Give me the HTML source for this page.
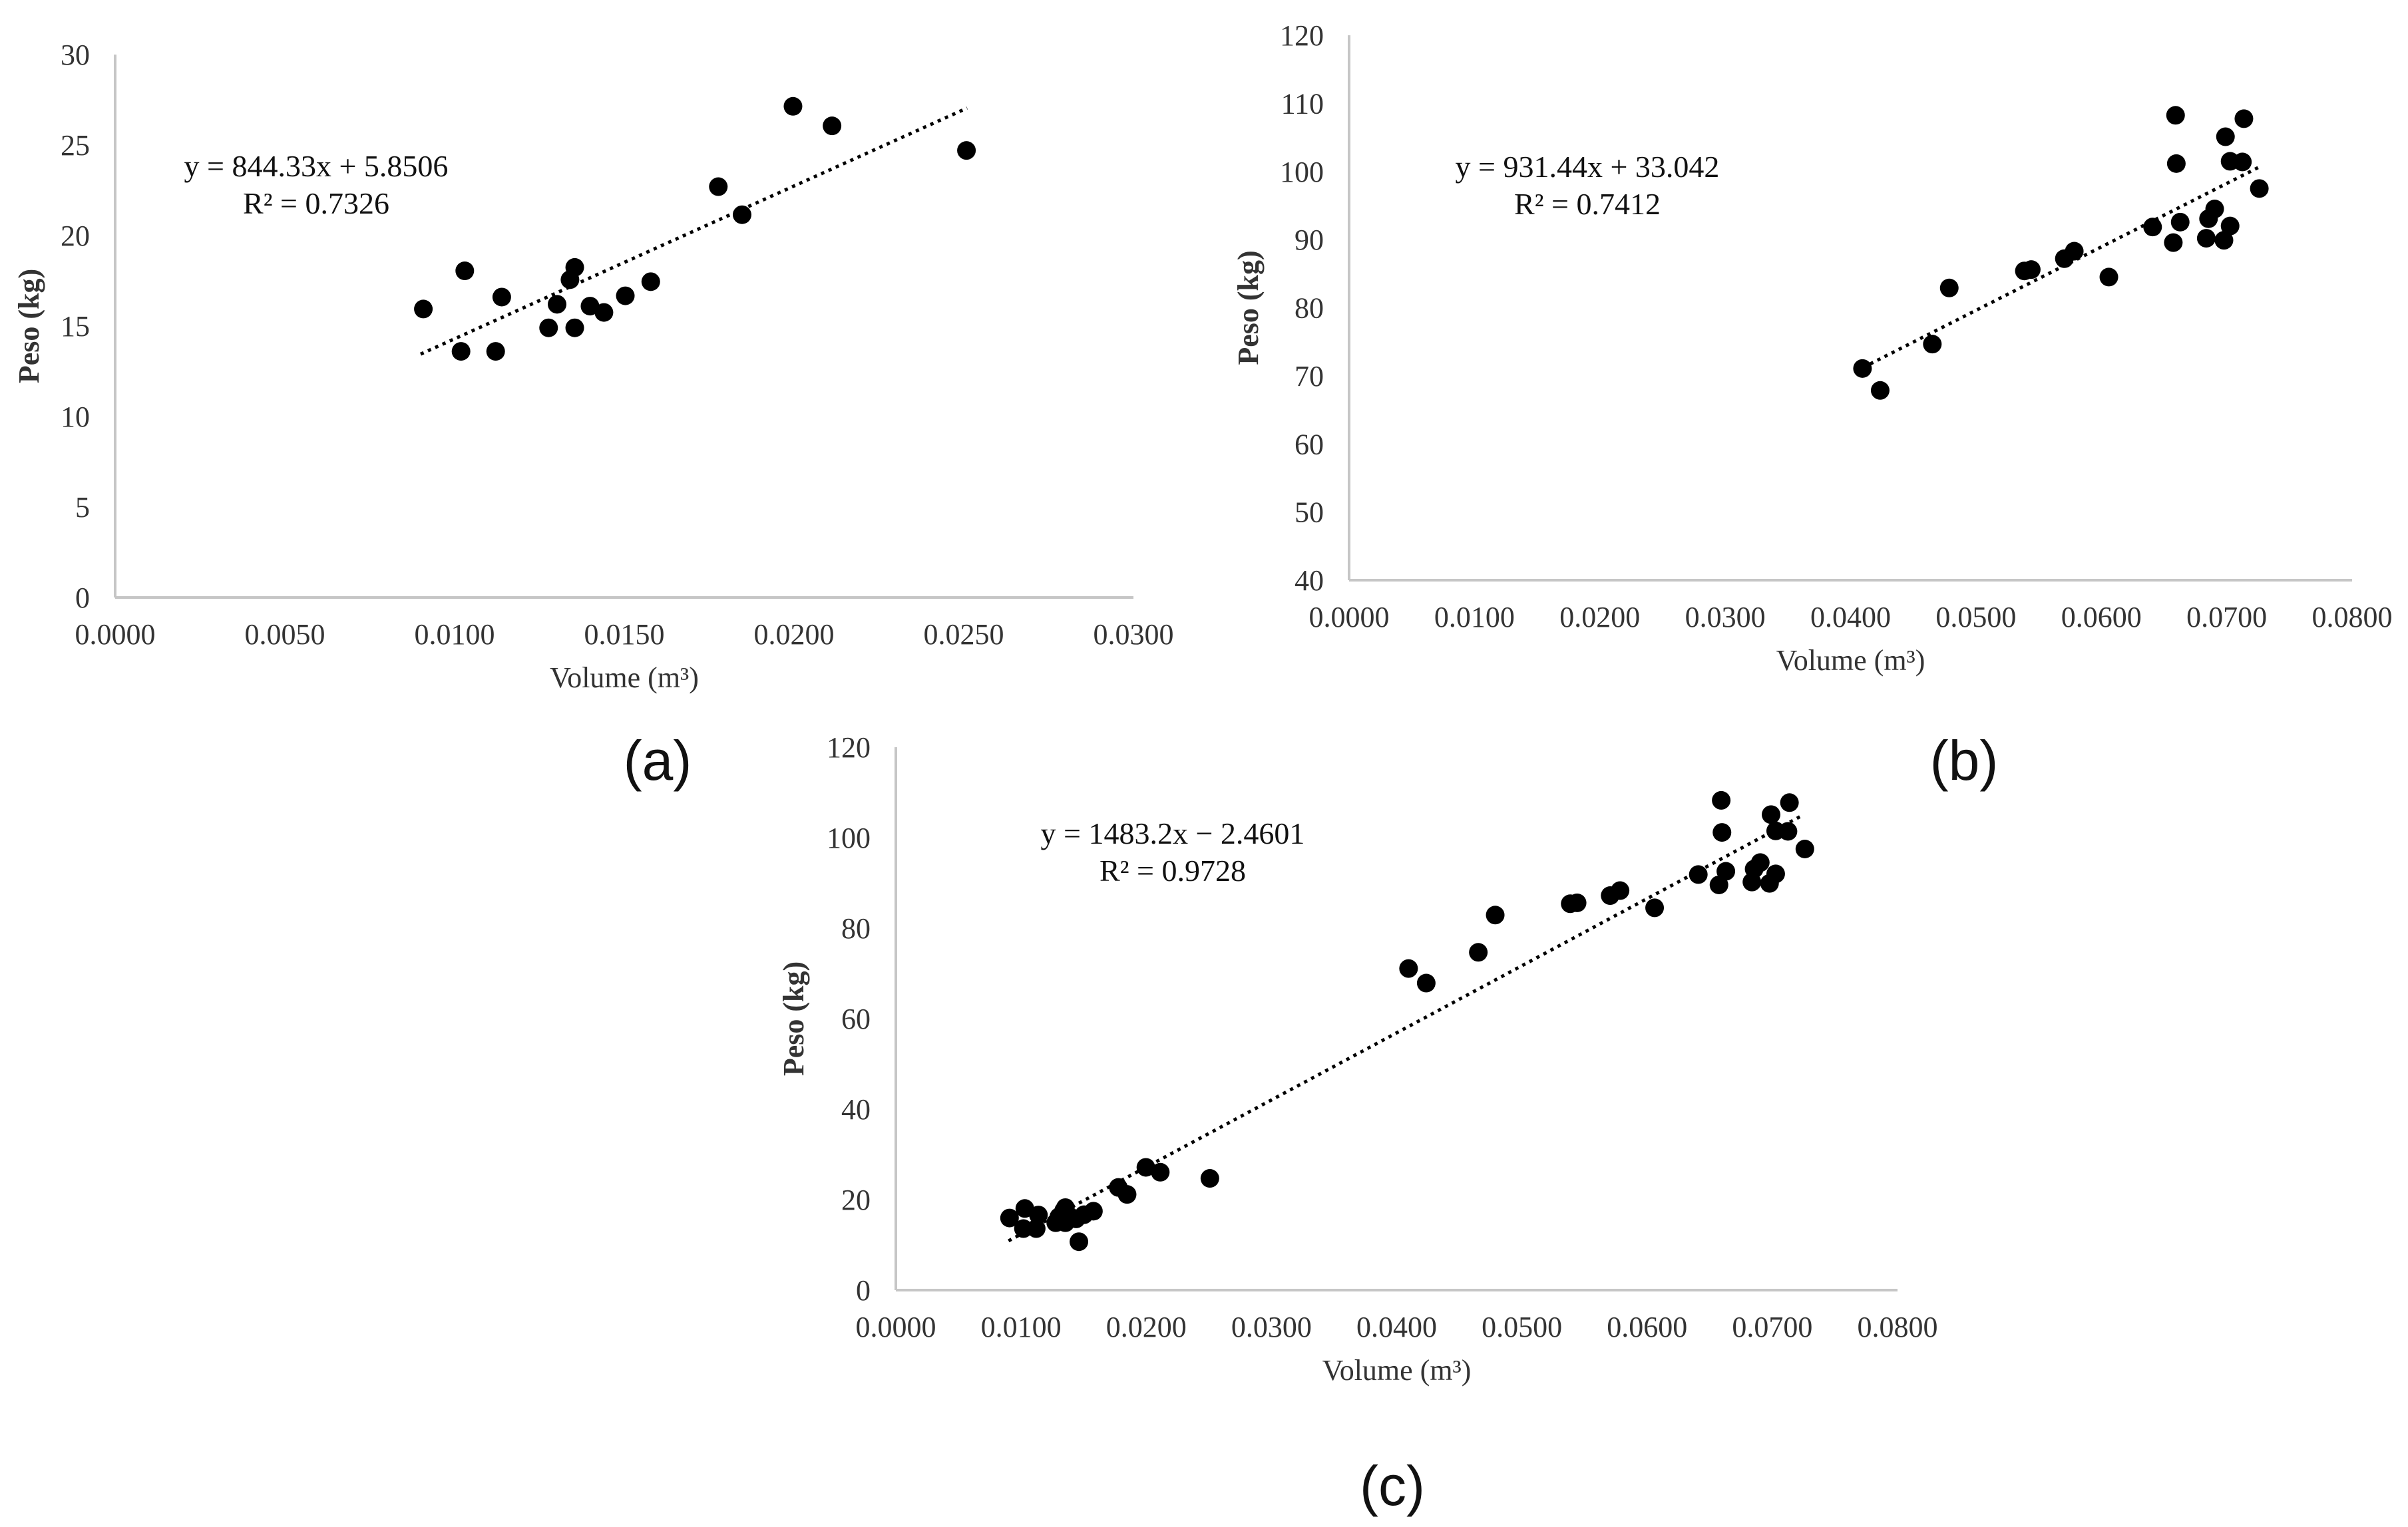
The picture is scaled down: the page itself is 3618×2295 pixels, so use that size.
<!DOCTYPE html>
<html><head><meta charset="utf-8"><style>
html,body{margin:0;padding:0;background:#fff;}
svg{display:block;font-family:"Liberation Serif",serif;}
</style></head><body>
<svg id="fig" width="3618" height="2295" viewBox="0 0 3618 2295" xmlns="http://www.w3.org/2000/svg"></svg>
<script>
// ---- data (a) ----
const aVolume = [0.00908,0.01019,0.0103,0.01121,0.01139,0.01277,0.01302,0.0134,0.01354,0.01354,0.01399,0.0144,0.01503,0.01578,0.01777,0.01847,0.01997,0.02112,0.02508];
const aPeso   = [15.94,13.6,18.05,13.6,16.6,14.9,16.2,17.56,18.24,14.9,16.1,15.75,16.67,17.45,22.7,21.15,27.14,26.06,24.7];
const aXTicks = ["0.0000","0.0050","0.0100","0.0150","0.0200","0.0250","0.0300"];
const aYTicks = ["0","5","10","15","20","25","30"];
// ---- data (b) ----
const bVolume = [0.04095,0.04236,0.04652,0.04787,0.05386,0.05441,0.05705,0.05784,0.0606,0.06409,0.06574,0.06592,0.06598,0.06629,0.06837,0.06855,0.06904,0.06978,0.0699,0.07027,0.07027,0.07125,0.07137,0.0726];
const bPeso   = [71.08,67.86,74.66,82.9,85.4,85.6,87.2,88.3,84.5,91.85,89.56,108.25,101.16,92.57,90.2,93.07,94.5,89.9,105.1,92.0,101.5,101.4,107.75,97.5];
const bXTicks = ["0.0000","0.0100","0.0200","0.0300","0.0400","0.0500","0.0600","0.0700","0.0800"];
const bYTicks = ["40","50","60","70","80","90","100","110","120"];
// ---- data (c) ----
const cExtraVolume = [0.01462];
const cExtraPeso = [10.7];
const cVolume = aVolume.concat(bVolume, cExtraVolume);
const cPeso = aPeso.concat(bPeso, cExtraPeso);
const cXTicks = ["0.0000","0.0100","0.0200","0.0300","0.0400","0.0500","0.0600","0.0700","0.0800"];
const cYTicks = ["0","20","40","60","80","100","120"];
// trendlines: slope, intercept, xStart, xEnd
const aTrend = [844.33, 5.8506, 0.0090, 0.0251];
const bTrend = [931.44, 33.042, 0.0410, 0.0728];
const cTrend = [1483.2, -2.4601, 0.0090, 0.0725];

const NS = "http://www.w3.org/2000/svg";
const svg = document.getElementById('fig');
function mk(tag, attrs, parent){const e=document.createElementNS(NS,tag);for(const k in attrs)e.setAttribute(k,attrs[k]);(parent||svg).appendChild(e);return e;}

function chart(o){
  const g = mk('g',{});
  
  
  const xMin=parseFloat(o.xt[0]), xMax=parseFloat(o.xt[o.xt.length-1]);
  const yMin=parseFloat(o.yt[0]), yMax=parseFloat(o.yt[o.yt.length-1]);
  const sx=v=>o.x0+(v-xMin)/(xMax-xMin)*(o.x1-o.x0);
  const sy=v=>o.y0-(v-yMin)/(yMax-yMin)*(o.y0-o.y1);
  const ya=mk('line',{x1:o.x0,y1:o.y1,x2:o.x0,y2:o.y0,stroke:'#c6c6c6','stroke-width':4},g);
  
  
  const xa=mk('line',{x1:o.x0,y1:o.y0,x2:o.x1,y2:o.y0,stroke:'#c6c6c6','stroke-width':4},g);
  
  
  o.yt.forEach(t=>{
    const e=mk('text',{x:o.x0-38,y:sy(parseFloat(t))+15,'text-anchor':'end','font-size':44,fill:'#333'},g);
    e.textContent=t;
    
    
  });
  o.xt.forEach(t=>{
    const e=mk('text',{x:sx(parseFloat(t)),y:o.y0+70,'text-anchor':'middle','font-size':44,fill:'#333'},g);
    e.textContent=t;
    
    
  });
  const xt=mk('text',{x:(o.x0+o.x1)/2,y:o.y0+135,'text-anchor':'middle','font-size':44,fill:'#333'},g);
  xt.textContent='Volume (m³)';
  
  
  const cy=(o.y0+o.y1)/2;
  const yt=mk('text',{x:o.ytx,y:cy,'text-anchor':'middle','font-size':44,'font-weight':'bold',fill:'#333',transform:`rotate(-90 ${o.ytx} ${cy})`},g);
  yt.textContent='Peso (kg)';
  
  
  const tr=o.trend;
  const tl=mk('line',{x1:sx(tr[2]),y1:sy(tr[0]*tr[2]+tr[1]),x2:sx(tr[3]),y2:sy(tr[0]*tr[3]+tr[1]),stroke:'#000','stroke-width':5,'stroke-dasharray':'5 7'},g);
  
  
  o.xs.forEach((v,i)=>{
    const c=mk('circle',{cx:sx(v),cy:sy(o.ys[i]),r:14,fill:'#000'},g);
    
    
  });
  o.eq.forEach((s,i)=>{
    const e=mk('text',{x:o.eqx,y:o.eqy+i*56,'text-anchor':'middle','font-size':46,fill:'#111'},g);
    e.textContent=s;
    
    
  });
  const p=mk('text',{x:o.px,y:o.py,'text-anchor':'middle','font-size':84,fill:'#111','font-family':'"Liberation Sans",sans-serif'},g);
  p.textContent=o.panel;
  
  
}

chart({name:'chart-a',x0:173,x1:1703,y0:898,y1:82,xt:aXTicks,yt:aYTicks,xs:aVolume,ys:aPeso,trend:aTrend,
  ytx:58,eq:['y = 844.33x + 5.8506','R² = 0.7326'],eqx:475,eqy:265,panel:'(a)',px:988,py:1172});
chart({name:'chart-b',x0:2027,x1:3534,y0:872,y1:53,xt:bXTicks,yt:bYTicks,xs:bVolume,ys:bPeso,trend:bTrend,
  ytx:1890,eq:['y = 931.44x + 33.042','R² = 0.7412'],eqx:2385,eqy:266,panel:'(b)',px:2951,py:1172});
chart({name:'chart-c',x0:1346,x1:2851,y0:1939,y1:1123,xt:cXTicks,yt:cYTicks,xs:cVolume,ys:cPeso,trend:cTrend,
  ytx:1207,eq:['y = 1483.2x − 2.4601','R² = 0.9728'],eqx:1762,eqy:1268,panel:'(c)',px:2092,py:2262});
</script>
</body></html>
